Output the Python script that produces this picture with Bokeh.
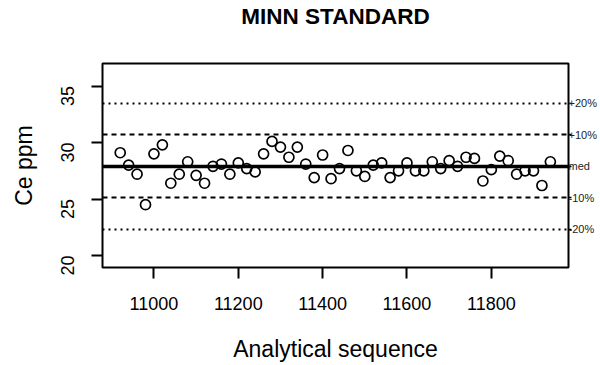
import math
from bokeh.plotting import figure
from bokeh.models import Range1d, LinearAxis, FixedTicker, Title
from bokeh.embed import file_html
from bokeh.resources import INLINE

# ---- data ----
sequence = [10920, 10940, 10960, 10980, 11000, 11020, 11040, 11060, 11080, 11100,
            11120, 11140, 11160, 11180, 11200, 11220, 11240, 11260, 11280, 11300,
            11320, 11340, 11360, 11380, 11400, 11420, 11440, 11460, 11480, 11500,
            11520, 11540, 11560, 11580, 11600, 11620, 11640, 11660, 11680, 11700,
            11720, 11740, 11760, 11780, 11800, 11820, 11840, 11860, 11880, 11900,
            11920, 11940]
ce_ppm = [29.1, 28.0, 27.2, 24.5, 29.0, 29.8, 26.4, 27.2, 28.3, 27.1,
          26.4, 27.9, 28.1, 27.2, 28.2, 27.7, 27.4, 29.0, 30.1, 29.6,
          28.7, 29.6, 28.1, 26.9, 28.9, 26.8, 27.7, 29.3, 27.5, 27.0,
          28.0, 28.2, 26.9, 27.5, 28.2, 27.5, 27.5, 28.3, 27.7, 28.4,
          27.9, 28.7, 28.6, 26.6, 27.6, 28.8, 28.4, 27.2, 27.5, 27.5,
          26.2, 28.3]
median_value = 27.9
ref_pct = [20, 10, 0, -10, -20]
ref_labels = ["+20%", "+10%", "med", "-10%", "-20%"]
x_ticks = [11000, 11200, 11400, 11600, 11800]
y_ticks = [20, 25, 30, 35]
title_text = "MINN STANDARD"
x_title = "Analytical sequence"
y_title = "Ce ppm"

FONT = "Liberation Sans"

p = figure(width=600, height=365, output_backend="svg", toolbar_location=None,
           x_range=Range1d(10878, 11983), y_range=Range1d(18.94, 37.0),
           title=None, min_border_top=0, min_border_bottom=0,
           min_border_left=102, min_border_right=32)

# spacer between frame and title, then the title itself (outermost)
p.add_layout(Title(text=" ", text_font=FONT, text_font_size="10px", standoff=17), "above")
p.add_layout(Title(text=title_text, align="center", vertical_align="top",
                   text_font=FONT, text_font_size="22.5px", text_font_style="bold",
                   text_color="black", standoff=6), "above")

p.xgrid.visible = False
p.ygrid.visible = False
p.outline_line_color = "black"
p.outline_line_width = 2
p.background_fill_color = "white"
p.border_fill_color = "white"

levels = [round(median_value * (1 + q / 100.0), 4) for q in ref_pct]
dash_for = {20: "2 4", 10: "5 4", 0: "solid", -10: "5 4", -20: "2 4"}
width_for = {20: 2, 10: 2, 0: 3.5, -10: 2, -20: 2}
for q, lv in zip(ref_pct, levels):
    p.hspan(y=[lv], line_color="black", line_width=width_for[q], line_dash=dash_for[q])

p.scatter(sequence, ce_ppm, size=10, marker="circle", fill_color=None,
          line_color="black", line_width=1.7)

# bottom axis
xa = p.xaxis[0]
xa.ticker = FixedTicker(ticks=x_ticks)
# left axis
ya = p.yaxis[0]
ya.ticker = FixedTicker(ticks=y_ticks)
ya.axis_label = y_title
ya.major_label_orientation = math.pi / 2

for ax, std, lstd in ((xa, 18, 0), (ya, 24, 15)):
    ax.axis_line_color = None
    ax.major_tick_out = 11
    ax.major_tick_in = 0
    ax.major_tick_line_width = 2
    ax.minor_tick_line_color = None
    ax.major_label_text_font = FONT
    ax.major_label_text_font_size = "18px"
    ax.major_label_text_color = "black"
    ax.major_label_standoff = std
    ax.axis_label_text_font = FONT
    ax.axis_label_text_font_size = "23px"
    ax.axis_label_text_font_style = "normal"
    ax.axis_label_text_color = "black"
    ax.axis_label_standoff = lstd

# spacer below the x axis, then the x axis title at the bottom
p.add_layout(Title(text=" ", text_font=FONT, text_font_size="10px", standoff=4), "below")
p.add_layout(Title(text=x_title, align="center", vertical_align="bottom",
                   text_font=FONT, text_font_size="23px", text_font_style="normal",
                   text_color="black", standoff=8), "below")

# right axis with reference labels
ra = LinearAxis(ticker=FixedTicker(ticks=levels),
                major_label_overrides={lv: lab for lv, lab in zip(levels, ref_labels)})
ra.axis_line_color = None
ra.major_tick_out = 3
ra.major_tick_in = 0
ra.major_tick_line_width = 1.5
ra.minor_tick_line_color = None
ra.major_label_standoff = -3
ra.major_label_text_font = FONT
ra.major_label_text_font_size = "11px"
ra.major_label_text_color = "#222222"
p.add_layout(ra, "right")

open("out.html", "w").write(file_html(p, INLINE))
